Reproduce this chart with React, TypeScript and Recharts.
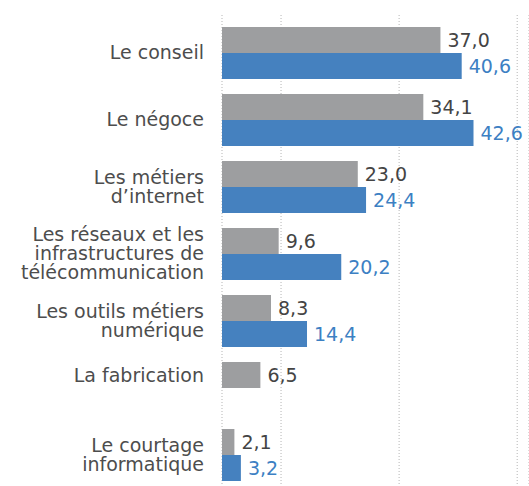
import { BarChart, Bar, XAxis, YAxis, CartesianGrid, LabelList } from "recharts"

const categories = [
  "Le conseil",
  "Le négoce",
  "Les métiers\nd’internet",
  "Les réseaux et les\ninfrastructures de\ntélécommunication",
  "Les outils métiers\nnumérique",
  "La fabrication",
  "Le courtage\ninformatique",
]
const greyValues = [37.0, 34.1, 23.0, 9.6, 8.3, 6.5, 2.1]
const blueValues: (number | null)[] = [40.6, 42.6, 24.4, 20.2, 14.4, null, 3.2]
const xTicks = [0, 10, 30, 50]

const data = categories.map((name, i) => ({
  name,
  grey: greyValues[i],
  blue: blueValues[i],
}))

const FONT = "'DejaVu Sans', sans-serif"
const FS = 19
const fmt = (v: any) => (v == null ? "" : Number(v).toFixed(1).replace(".", ","))

function CategoryTick(props: any) {
  const { x, y, payload, index } = props
  const lines = String(payload.value).split("\n")
  // single-bar category: centre the label on the grey bar
  const shift = blueValues[index] == null ? -12 : 0
  const lh = 19.3
  return (
    <text x={x} y={y + shift} textAnchor="end" fill="#4d4d4d" fontSize={FS} fontFamily={FONT}>
      {lines.map((line, i) => (
        <tspan key={i} x={x} y={y + shift + (i - (lines.length - 1) / 2) * lh} dy="0.35em">
          {line}
        </tspan>
      ))}
    </text>
  )
}

export default function App() {
  return (
    <div style={{ position: "absolute", left: 0, top: 0, width: 529, height: 486, overflow: "hidden", background: "#fff" }}>
      <BarChart
        width={529}
        height={500}
        data={data}
        layout="vertical"
        margin={{ top: 15, right: 0, bottom: 12, left: 0 }}
        barCategoryGap={8}
        barGap={0}
      >
        <CartesianGrid horizontal={false} stroke="#b5b5b5" strokeDasharray="1 2" />
        <XAxis type="number" domain={[0, 52]} ticks={xTicks} hide />
        <YAxis
          type="category"
          dataKey="name"
          width={222}
          axisLine={false}
          tickLine={false}
          tickSize={0}
          tickMargin={18}
          padding={{ top: 4, bottom: 0 }}
          interval={0}
          tick={<CategoryTick />}
        />
        <Bar dataKey="grey" fill="#9d9ea0" isAnimationActive={false}>
          <LabelList
            dataKey="grey"
            position="right"
            offset={7}
            formatter={fmt}
            fill="#444444"
            fontSize={FS}
            fontFamily={FONT}
          />
        </Bar>
        <Bar dataKey="blue" fill="#4581bf" isAnimationActive={false}>
          <LabelList
            dataKey="blue"
            position="right"
            offset={7}
            formatter={fmt}
            fill="#3c80c3"
            fontSize={FS}
            fontFamily={FONT}
          />
        </Bar>
      </BarChart>
    </div>
  )
}
